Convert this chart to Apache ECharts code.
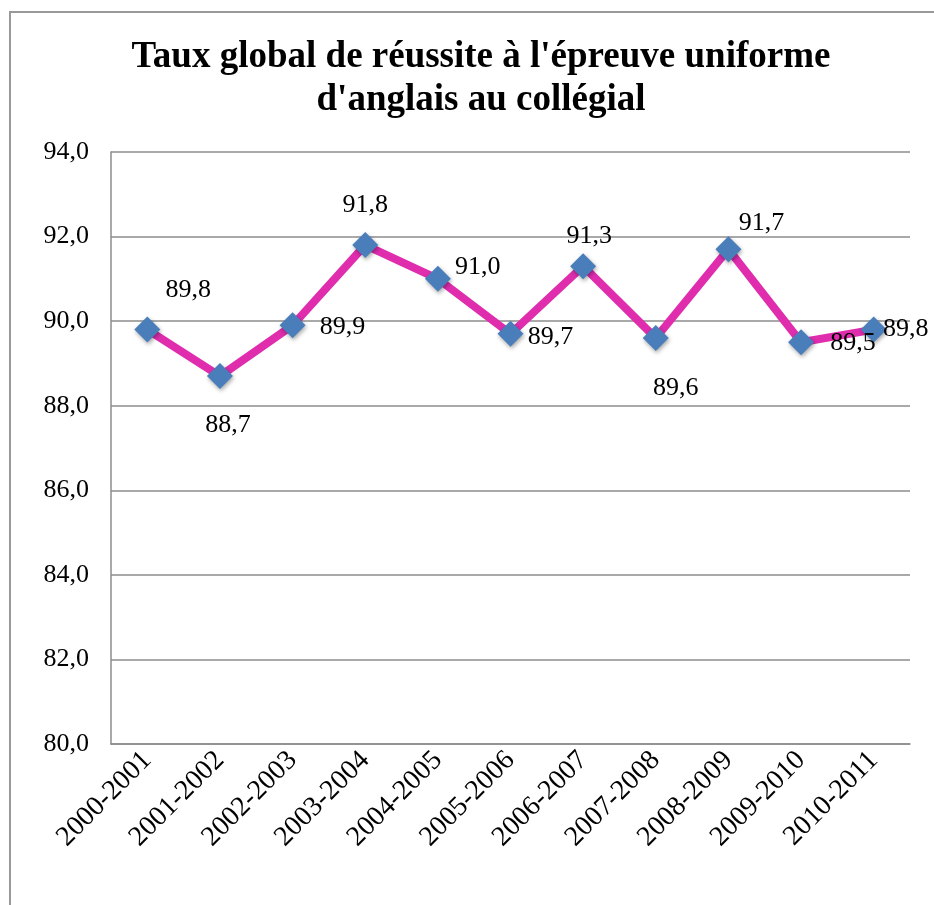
<!DOCTYPE html>
<html>
<head>
<meta charset="utf-8">
<script src="https://cdn.jsdelivr.net/npm/echarts@6/dist/echarts.min.js"></script>
<style>
html,body{margin:0;padding:0;background:#fff;}
#chart{width:934px;height:905px;}
</style>
</head>
<body>
<div id="chart"></div>
<script>
var titleText = "Taux global de réussite à l'épreuve uniforme\nd'anglais au collégial";
var categories = ["2000-2001","2001-2002","2002-2003","2003-2004","2004-2005","2005-2006","2006-2007","2007-2008","2008-2009","2009-2010","2010-2011"];
var values = [89.8, 88.7, 89.9, 91.8, 91.0, 89.7, 91.3, 89.6, 91.7, 89.5, 89.8];
var yMin = 80, yMax = 94, yStep = 2;

// label placement (layout only)
var labelOffsets = [[41,-39],[8,49],[50,2],[0,-40],[40,-12],[40,3],[6,-30],[20,50],[33,-26],[52,1],[32,0]];

var serif = "'Liberation Serif','DejaVu Serif',serif";
var chart = echarts.init(document.getElementById('chart'));
var seriesData = values.map(function(v, i){
  return {
    value: v,
    label: { offset: labelOffsets[i] }
  };
});
chart.setOption({
  animation: false,
  backgroundColor: '#fff',
  graphic: [{
    type: 'rect', z: -1,
    shape: { x: 10, y: 12, width: 1000, height: 1000 },
    style: { fill: 'none', stroke: '#999', lineWidth: 2 }
  }],
  title: {
    text: titleText,
    left: 476, top: 31, textAlign: 'center',
    textStyle: { fontFamily: serif, fontWeight: 'bold', fontSize: 37, lineHeight: 43, color: '#000' }
  },
  grid: { left: 111, right: 24, top: 152, bottom: 161, containLabel: false },
  xAxis: {
    type: 'category', data: categories, boundaryGap: true,
    axisLine: { show: true, lineStyle: { color: '#8c8c8c', width: 1.5 } },
    axisTick: { show: false },
    axisLabel: { rotate: 45, margin: 12, fontFamily: serif, fontSize: 28, color: '#000', interval: 0 }
  },
  yAxis: {
    type: 'value', min: yMin, max: yMax, interval: yStep,
    axisLine: { show: true, lineStyle: { color: '#8c8c8c', width: 1.5 } },
    axisTick: { show: false },
    splitLine: { show: true, lineStyle: { color: '#8c8c8c', width: 1.5 } },
    axisLabel: { margin: 22, fontFamily: serif, fontSize: 26, color: '#000',
      formatter: function(v){ return v.toFixed(1).replace('.', ','); } }
  },
  series: [{
    type: 'line', data: seriesData,
    lineStyle: { color: '#DF2DAE', width: 8 },
    symbol: 'diamond', symbolSize: 26,
    itemStyle: { color: '#4A7EBB', shadowColor: 'rgba(0,0,0,0.35)', shadowBlur: 4, shadowOffsetX: 1, shadowOffsetY: 2 },
    label: {
      show: true, position: 'inside', align: 'center', verticalAlign: 'middle',
      fontFamily: serif, fontSize: 26, color: '#000',
      formatter: function(p){ return p.value.toFixed(1).replace('.', ','); }
    }
  }]
});
</script>
</body>
</html>
